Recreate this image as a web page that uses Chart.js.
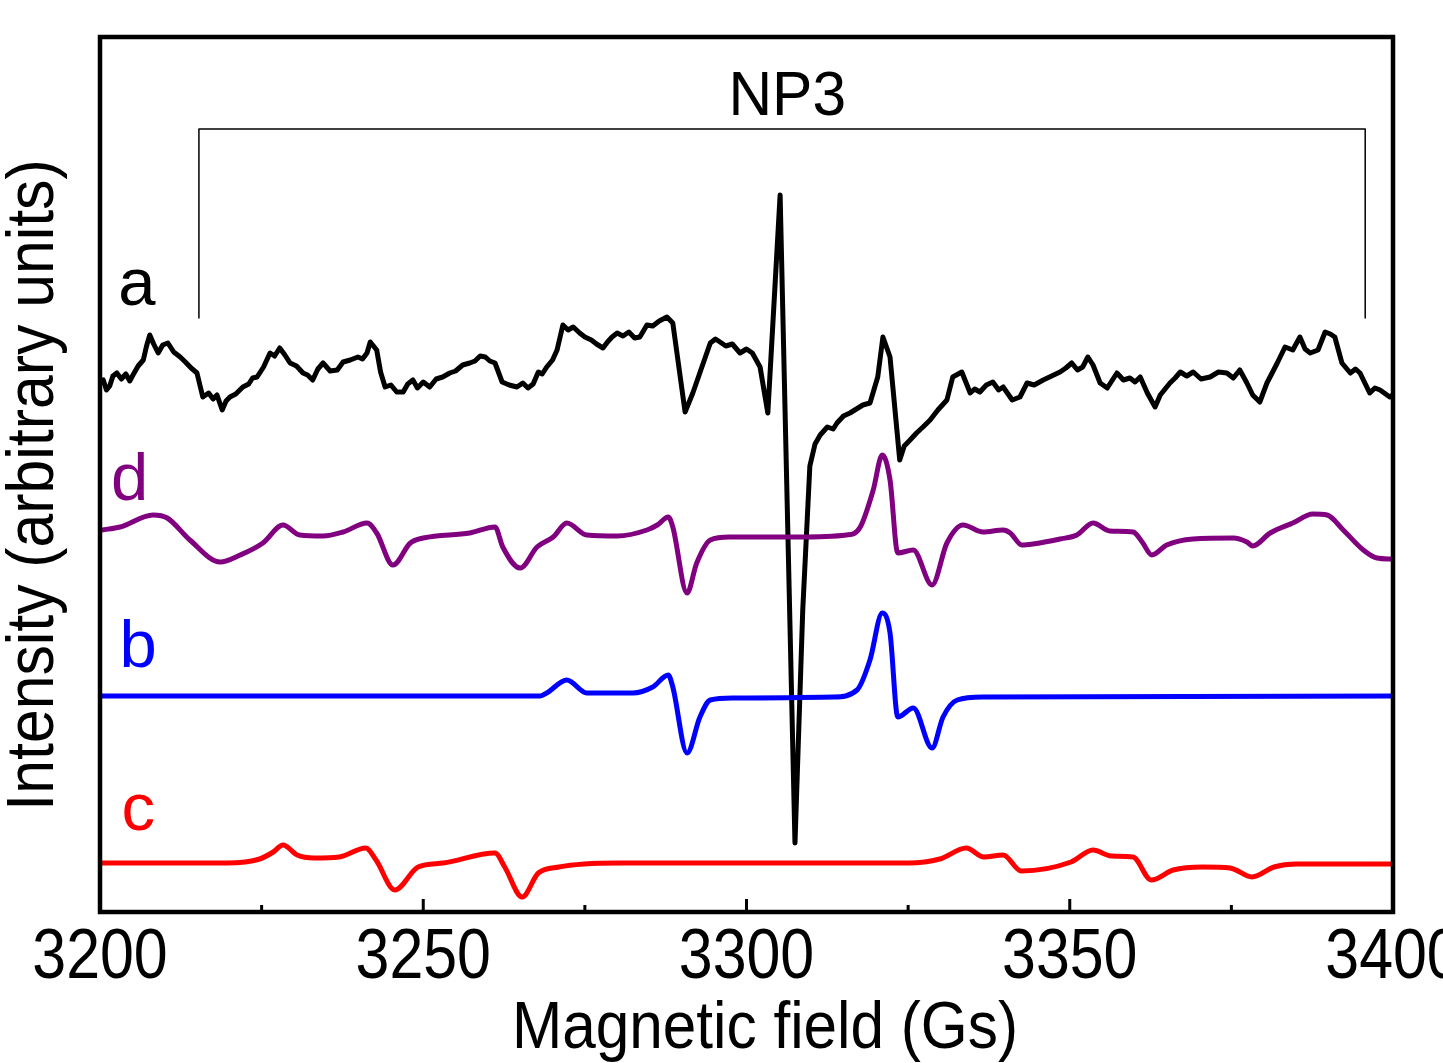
<!DOCTYPE html>
<html>
<head>
<meta charset="utf-8">
<title>NP3 EPR spectra</title>
<script src="https://cdn.jsdelivr.net/npm/chart.js@4.4.0/dist/chart.umd.min.js"></script>
<style>
  html, body { margin: 0; padding: 0; background: #fff; }
  canvas { display: block; }
</style>
</head>
<body>
<canvas id="eprChart" width="1443" height="1063"></canvas>
<script>
// Trace a: experimental spectrum (black)
const fieldA = [
    3200.0, 3200.5, 3201.0, 3201.5, 3202.0, 3202.6, 3203.3, 3204.0, 3204.6, 3205.1,
    3205.9, 3206.7, 3207.2, 3207.7, 3208.3, 3209.0, 3209.7, 3210.5, 3211.4, 3212.4,
    3213.2, 3214.1, 3215.0, 3215.9, 3216.8, 3217.5, 3218.1, 3218.9, 3219.5, 3220.1,
    3221.0, 3222.1, 3223.0, 3223.6, 3224.3, 3225.3, 3226.3, 3227.0, 3227.8, 3228.6,
    3229.4, 3230.4, 3231.4, 3232.1, 3232.9, 3233.7, 3234.5, 3235.6, 3236.7, 3237.6,
    3238.7, 3239.9, 3240.6, 3241.3, 3241.8, 3242.8, 3243.4, 3244.1, 3245.0, 3245.9,
    3246.9, 3247.6, 3248.4, 3249.1, 3250.0, 3251.0, 3252.0, 3253.0, 3254.1, 3255.0,
    3256.1, 3257.2, 3258.0, 3258.8, 3259.6, 3260.3, 3261.1, 3262.2, 3263.3, 3264.5,
    3265.4, 3266.2, 3267.0, 3267.8, 3268.4, 3269.1, 3270.0, 3270.7, 3271.6, 3272.4,
    3273.2, 3274.2, 3275.0, 3276.0, 3276.8, 3277.8, 3278.5, 3279.2, 3280.0, 3280.9,
    3281.8, 3282.7, 3283.5, 3284.6, 3285.5, 3286.5, 3287.7, 3288.6, 3290.5, 3291.7,
    3293.1, 3294.4, 3295.2, 3295.9, 3296.8, 3297.8, 3299.0, 3300.0, 3300.9, 3302.1,
    3303.3, 3305.2, 3307.5, 3308.7, 3309.8, 3310.6, 3311.4, 3312.5, 3313.4, 3314.0,
    3315.0, 3316.0, 3317.0, 3318.0, 3319.1, 3320.3, 3321.1, 3322.2, 3323.7, 3324.4,
    3325.3, 3326.3, 3327.3, 3328.4, 3329.6, 3331.0, 3331.9, 3333.3, 3334.6, 3335.3,
    3336.1, 3337.1, 3338.1, 3339.0, 3339.7, 3341.1, 3342.3, 3343.4, 3344.5, 3345.9,
    3347.2, 3348.5, 3349.4, 3350.3, 3351.2, 3352.0, 3352.8, 3353.6, 3354.7, 3355.8,
    3357.3, 3358.3, 3359.3, 3360.1, 3360.9, 3362.0, 3363.2, 3364.0, 3365.5, 3366.3,
    3367.1, 3368.1, 3369.1, 3370.3, 3371.7, 3373.0, 3374.3, 3375.3, 3376.3, 3377.4,
    3378.3, 3379.4, 3380.5, 3382.1, 3383.3, 3384.5, 3385.6, 3386.4, 3387.2, 3388.4,
    3389.5, 3390.3, 3391.0, 3392.1, 3393.4, 3394.2, 3394.9, 3396.4, 3397.2, 3398.0,
    3399.5, 3400.0
];
const intensityA = [
    530, 532, 522, 526, 536, 539, 533, 538, 531, 537,
    546, 552, 566, 577, 568, 559, 567, 569, 560, 555,
    550, 544, 539, 515, 519, 513, 517, 502, 511, 515,
    518, 525, 528, 534, 535, 545, 559, 556, 564, 557,
    549, 546, 539, 537, 532, 543, 549, 541, 542, 550,
    552, 555, 553, 559, 570, 562, 540, 525, 527, 520,
    520, 528, 532, 524, 530, 525, 533, 535, 539, 541,
    547, 549, 551, 556, 555, 551, 549, 530, 527, 525,
    529, 524, 528, 540, 538, 545, 552, 562, 587, 582,
    585, 579, 575, 572, 568, 564, 570, 575, 579, 576,
    580, 574, 575, 587, 586, 591, 595, 589, 500, 519,
    545, 569, 573, 570, 566, 568, 559, 563, 559, 545,
    499, 717, 69, 302, 446, 468, 477, 485, 483, 489,
    496, 499, 503, 507, 509, 535, 575, 555, 452, 466,
    472, 479, 485, 492, 502, 512, 535, 540, 519, 523,
    520, 527, 530, 522, 525, 512, 515, 529, 527, 532,
    536, 540, 544, 549, 542, 545, 555, 547, 529, 524,
    539, 532, 534, 530, 535, 519, 505, 517, 529, 534,
    540, 536, 540, 533, 535, 540, 539, 534, 542, 529,
    517, 510, 529, 549, 565, 562, 575, 563, 559, 562,
    580, 578, 575, 549, 539, 543, 539, 519, 524, 522,
    515, 517
];

// Trace d: total simulation (purple)
const fieldD = [3200.3, 3203.1, 3208.2, 3210.4, 3213.9, 3218.6, 3221.7, 3225.2, 3228.3, 3230.9, 3234.5, 3237.6, 3241.3, 3242.8, 3245.3, 3248.0, 3250.0, 3257.2, 3261.1, 3262.3, 3265.0, 3267.6, 3270.1, 3272.2, 3275.3, 3280.0, 3284.6, 3286.2, 3287.9, 3288.6, 3290.8, 3292.3, 3294.4, 3297.4, 3307.8, 3315.5, 3317.6, 3319.6, 3321.0, 3322.2, 3323.4, 3325.8, 3328.7, 3331.0, 3333.5, 3336.6, 3339.7, 3340.8, 3342.6, 3344.3, 3348.5, 3351.1, 3353.6, 3356.2, 3359.8, 3361.2, 3362.7, 3365.0, 3369.1, 3375.3, 3377.4, 3378.3, 3381.0, 3384.5, 3387.6, 3389.8, 3392.3, 3395.4, 3397.5, 3399.8];
const intensityD = [382, 385, 397, 394, 372, 350, 357, 369, 387, 377, 376, 380, 389, 379, 347, 369, 374, 379, 385, 365, 344, 365, 375, 389, 377, 376, 382, 387, 395, 385, 319, 349, 372, 375, 375, 377, 385, 422, 457, 432, 359, 362, 327, 369, 387, 380, 382, 379, 367, 368, 373, 377, 389, 381, 380, 370, 357, 367, 373, 374, 370, 366, 379, 389, 398, 397, 382, 362, 354, 353];

// Trace b: component simulation (blue)
const fieldB = [3200.0, 3266.0, 3268.1, 3269.1, 3272.2, 3275.3, 3282.4, 3285.5, 3287.9, 3288.6, 3290.8, 3292.8, 3294.4, 3297.9, 3313.4, 3317.1, 3319.1, 3321.0, 3322.2, 3323.4, 3325.8, 3328.7, 3330.4, 3332.6, 3336.6, 3400.0];
const intensityB = [216, 216, 216, 219, 232, 219, 219, 225, 237, 225, 159, 195, 212, 214, 215, 222, 252, 299, 279, 195, 204, 164, 195, 212, 215, 216];

// Trace c: component simulation (red)
const fieldC = [3200.0, 3219.6, 3224.7, 3226.8, 3228.3, 3230.5, 3233.1, 3237.0, 3241.1, 3242.7, 3245.6, 3249.2, 3253.1, 3261.1, 3262.6, 3265.3, 3267.8, 3271.0, 3274.9, 3280.4, 3325.1, 3329.9, 3334.0, 3336.7, 3339.7, 3342.5, 3350.2, 3353.6, 3356.4, 3359.8, 3362.6, 3366.0, 3370.6, 3374.8, 3378.2, 3381.6, 3385.0, 3400.0];
const intensityC = [49, 49, 53, 60, 67, 57, 54, 55, 64, 52, 22, 45, 49, 59, 45, 15, 39, 45, 48, 49, 49, 53, 64, 55, 57, 41, 50, 62, 56, 55, 32, 42, 45, 44, 35, 45, 48, 48];

// "NP3" bracket
const bracketField = [3215.3, 3215.3, 3395.7, 3395.7];
const bracketIntensity = [594, 783, 783, 594];

const majorTicks = [3200, 3250, 3300, 3350, 3400];
const minorTicks = [3225, 3275, 3325, 3375];

const toPoints = (xs, ys) => xs.map((x, i) => ({ x: x, y: ys[i] }));

const FONT = '"Liberation Sans", Arial, Helvetica, sans-serif';

function drawText(ctx, text, px, py, size, color, squeeze, rotate) {
    ctx.save();
    ctx.translate(px, py);
    if (rotate) ctx.rotate(rotate);
    ctx.scale(squeeze, 1);
    ctx.font = size + 'px ' + FONT;
    ctx.fillStyle = color;
    ctx.textAlign = 'center';
    ctx.textBaseline = 'alphabetic';
    ctx.fillText(text, 0, 0);
    ctx.restore();
}

// frame, inward ticks, tick labels, titles and trace letters
const framePlugin = {
    id: 'framePlugin',
    afterDatasetsDraw(chart) {
        const { ctx, chartArea: area, scales: { x, y } } = chart;
        ctx.save();
        ctx.strokeStyle = '#000';
        ctx.lineWidth = 4.5;
        ctx.strokeRect(area.left, area.top, area.right - area.left, area.bottom - area.top);

        ctx.lineWidth = 3;
        ctx.beginPath();
        majorTicks.forEach(v => {
            const px = x.getPixelForValue(v);
            ctx.moveTo(px, area.bottom);
            ctx.lineTo(px, area.bottom - 13);
        });
        minorTicks.forEach(v => {
            const px = x.getPixelForValue(v);
            ctx.moveTo(px, area.bottom);
            ctx.lineTo(px, area.bottom - 7);
        });
        ctx.stroke();
        ctx.restore();

        majorTicks.forEach(v => {
            drawText(ctx, String(v), x.getPixelForValue(v), area.bottom + 66, 70, '#000', 0.87, 0);
        });
        drawText(ctx, 'Magnetic field (Gs)', 765, 1048, 67, '#000', 0.9, 0);
        drawText(ctx, 'Intensity (arbitrary units)', 53, 485, 66, '#000', 0.92, -Math.PI / 2);

        drawText(ctx, 'NP3', x.getPixelForValue(3306.3), y.getPixelForValue(797), 63, '#000', 0.96, 0);
        drawText(ctx, 'a', x.getPixelForValue(3205.7), y.getPixelForValue(607), 67, '#000', 1, 0);
        drawText(ctx, 'd', x.getPixelForValue(3204.6), y.getPixelForValue(412), 67, '#800080', 1, 0);
        drawText(ctx, 'b', x.getPixelForValue(3205.9), y.getPixelForValue(245), 67, '#0000ff', 1, 0);
        drawText(ctx, 'c', x.getPixelForValue(3205.9), y.getPixelForValue(82), 67, '#ff0000', 1, 0);
    }
};

const ctx = document.getElementById('eprChart').getContext('2d');
new Chart(ctx, {
    type: 'line',
    data: {
        datasets: [
            {
                label: 'a',
                data: toPoints(fieldA, intensityA),
                borderColor: '#000',
                borderWidth: 5,
                tension: 0,
                order: 4
            },
            {
                label: 'd',
                data: toPoints(fieldD, intensityD),
                borderColor: '#800080',
                borderWidth: 5,
                cubicInterpolationMode: 'monotone',
                order: 1
            },
            {
                label: 'b',
                data: toPoints(fieldB, intensityB),
                borderColor: '#0000ff',
                borderWidth: 5,
                cubicInterpolationMode: 'monotone',
                order: 1
            },
            {
                label: 'c',
                data: toPoints(fieldC, intensityC),
                borderColor: '#ff0000',
                borderWidth: 5,
                cubicInterpolationMode: 'monotone',
                order: 1
            },
            {
                label: 'NP3',
                data: toPoints(bracketField, bracketIntensity),
                borderColor: '#000',
                borderWidth: 1.5,
                tension: 0,
                order: 5
            }
        ]
    },
    options: {
        responsive: false,
        animation: false,
        devicePixelRatio: 1,
        layout: {
            padding: { left: 100, right: 50, top: 37, bottom: 151 }
        },
        elements: {
            point: { radius: 0, hoverRadius: 0 },
            line: { fill: false, borderJoinStyle: 'round', borderCapStyle: 'round' }
        },
        scales: {
            x: { type: 'linear', min: 3200, max: 3400, display: false },
            y: { min: 0, max: 875, display: false }
        },
        plugins: {
            legend: { display: false },
            tooltip: { enabled: false }
        }
    },
    plugins: [framePlugin]
});
</script>
</body>
</html>
